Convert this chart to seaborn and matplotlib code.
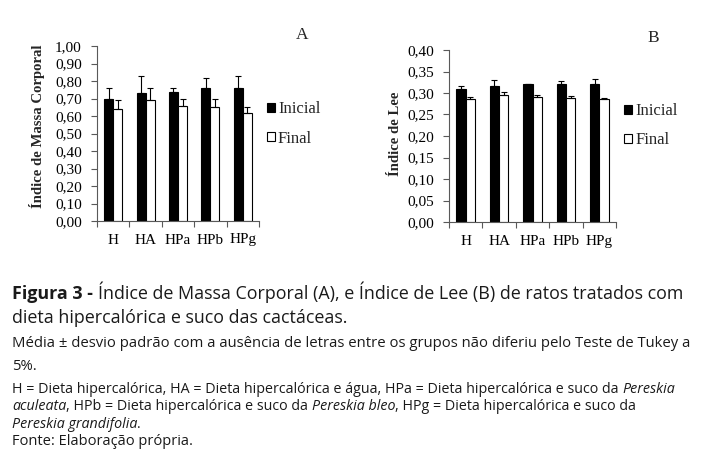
import matplotlib
matplotlib.use("Agg")
import matplotlib.pyplot as plt
import matplotlib.ticker as mticker
import seaborn as sns
import pandas as pd

grupos = ["H", "HA", "HPa", "HPb", "HPg"]
momentos = ["Inicial", "Final"]

imc_inicial = [0.70, 0.73, 0.74, 0.76, 0.76]
imc_inicial_dp = [0.06, 0.10, 0.02, 0.06, 0.07]
imc_final = [0.64, 0.69, 0.66, 0.65, 0.62]
imc_final_dp = [0.05, 0.07, 0.04, 0.05, 0.03]

lee_inicial = [0.309, 0.317, 0.321, 0.322, 0.322]
lee_inicial_dp = [0.008, 0.014, 0.001, 0.007, 0.011]
lee_final = [0.287, 0.295, 0.291, 0.289, 0.287]
lee_final_dp = [0.004, 0.008, 0.004, 0.004, 0.002]

sns.set_theme(style="white")
plt.rcParams["font.family"] = ["Liberation Serif", "DejaVu Serif"]

fig = plt.figure(figsize=(7.09, 4.67), dpi=100)
W, H = 709, 467


def px_axes(x0, y0, x1, y1):
    return fig.add_axes([x0 / W, 1 - y1 / H, (x1 - x0) / W, (y1 - y0) / H])


def painel(ax, ini, ini_dp, fin, fin_dp, ymax, step, ylabel, lab_xy, leg_y):
    df = pd.DataFrame({
        "grupo": grupos * 2,
        "momento": ["Inicial"] * 5 + ["Final"] * 5,
        "valor": ini + fin,
    })
    sns.barplot(data=df, x="grupo", y="valor", hue="momento", order=grupos,
                hue_order=momentos, palette={"Inicial": "black", "Final": "white"},
                edgecolor="black", linewidth=0.8, width=0.56, gap=0,
                errorbar=None, ax=ax)
    # barras de desvio padrão só para cima
    for cont, dp in zip(ax.containers, [ini_dp, fin_dp]):
        xs = [b.get_x() + b.get_width() / 2 for b in cont]
        ys = [b.get_height() for b in cont]
        ax.errorbar(xs, ys, yerr=[[0] * len(dp), dp], fmt="none", ecolor="black",
                    elinewidth=0.8, capsize=2.3, capthick=0.8)
    ax.set_xlim(-0.5, 4.5)
    ax.set_ylim(0, ymax)
    ax.yaxis.set_major_locator(mticker.MultipleLocator(step))
    ax.yaxis.set_major_formatter(mticker.FuncFormatter(lambda v, p: f"{v:.2f}".replace(".", ",")))
    ax.xaxis.set_minor_locator(mticker.FixedLocator([-0.5, 0.5, 1.5, 2.5, 3.5, 4.5]))
    ax.tick_params(axis="x", which="major", length=0, labelsize=11, pad=9, colors="black")
    ax.tick_params(axis="x", which="minor", length=4, width=0.8, color="#595959", bottom=True)
    ax.tick_params(axis="y", length=4, width=0.8, color="#595959", labelsize=11, pad=7,
                   left=True, labelcolor="black")
    for s in ["top", "right"]:
        ax.spines[s].set_visible(False)
    for s in ["left", "bottom"]:
        ax.spines[s].set_color("#595959")
        ax.spines[s].set_linewidth(0.8)
    ax.set_xlabel("")
    ax.set_ylabel(ylabel, fontsize=10.6, fontweight="bold")
    ax.yaxis.set_label_coords(*lab_xy)
    ax.legend(frameon=False, loc="center left", bbox_to_anchor=(1.05, leg_y),
              fontsize=12, handlelength=0.45, handleheight=0.45, handletextpad=0.2,
              labelspacing=0.8, borderaxespad=0, borderpad=0)


axA = px_axes(97, 46, 259, 221)
painel(axA, imc_inicial, imc_inicial_dp, imc_final, imc_final_dp, 1.0, 0.1,
       "Índice de Massa Corporal", (-0.32, 0.54), 0.555)
axB = px_axes(449, 50, 616, 222)
painel(axB, lee_inicial, lee_inicial_dp, lee_final, lee_final_dp, 0.4, 0.05,
       "Índice de Lee", (-0.28, 0.515), 0.56)

fig.text(302 / W, 1 - 35 / H, "A", fontsize=12.5, ha="center", va="center")
fig.text(653 / W, 1 - 38 / H, "B", fontsize=12.5, ha="center", va="center")

# legenda em texto, pedaços com estilos diferentes na mesma linha
renderer = fig.canvas.get_renderer()


def linha(y_base, partes, size):
    x = 12
    for txt, peso, estilo in partes:
        t = fig.text(x / W, 1 - y_base / H, txt, fontsize=size, fontweight=peso,
                     fontstyle=estilo, family="Open Sans", va="baseline", ha="left",
                     color="#1a1a1a")
        bb = t.get_window_extent(renderer)
        x += bb.width


n, b, i = "normal", "bold", "italic"
linha(299, [("Figura 3 - ", b, n),
            ("Índice de Massa Corporal (A), e Índice de Lee (B) de ratos tratados com", n, n)], 12.85)
linha(323, [("dieta hipercalórica e suco das cactáceas.", n, n)], 12.85)
linha(347, [("Média ± desvio padrão com a ausência de letras entre os grupos não diferiu pelo Teste de Tukey a", n, n)], 10.75)
linha(370, [("5%.", n, n)], 10.75)
linha(393, [("H = Dieta hipercalórica, HA = Dieta hipercalórica e água, HPa = Dieta hipercalórica e suco da ", n, n),
            ("Pereskia", n, i)], 10.3)
linha(410, [("aculeata", n, i), (", HPb = Dieta hipercalórica e suco da ", n, n),
            ("Pereskia bleo", n, i), (", HPg = Dieta hipercalórica e suco da", n, n)], 10.3)
linha(428, [("Pereskia grandifolia", n, i), (".", n, n)], 10.3)
linha(445, [("Fonte: Elaboração própria.", n, n)], 10.5)

fig.savefig("out.png", dpi=100)
